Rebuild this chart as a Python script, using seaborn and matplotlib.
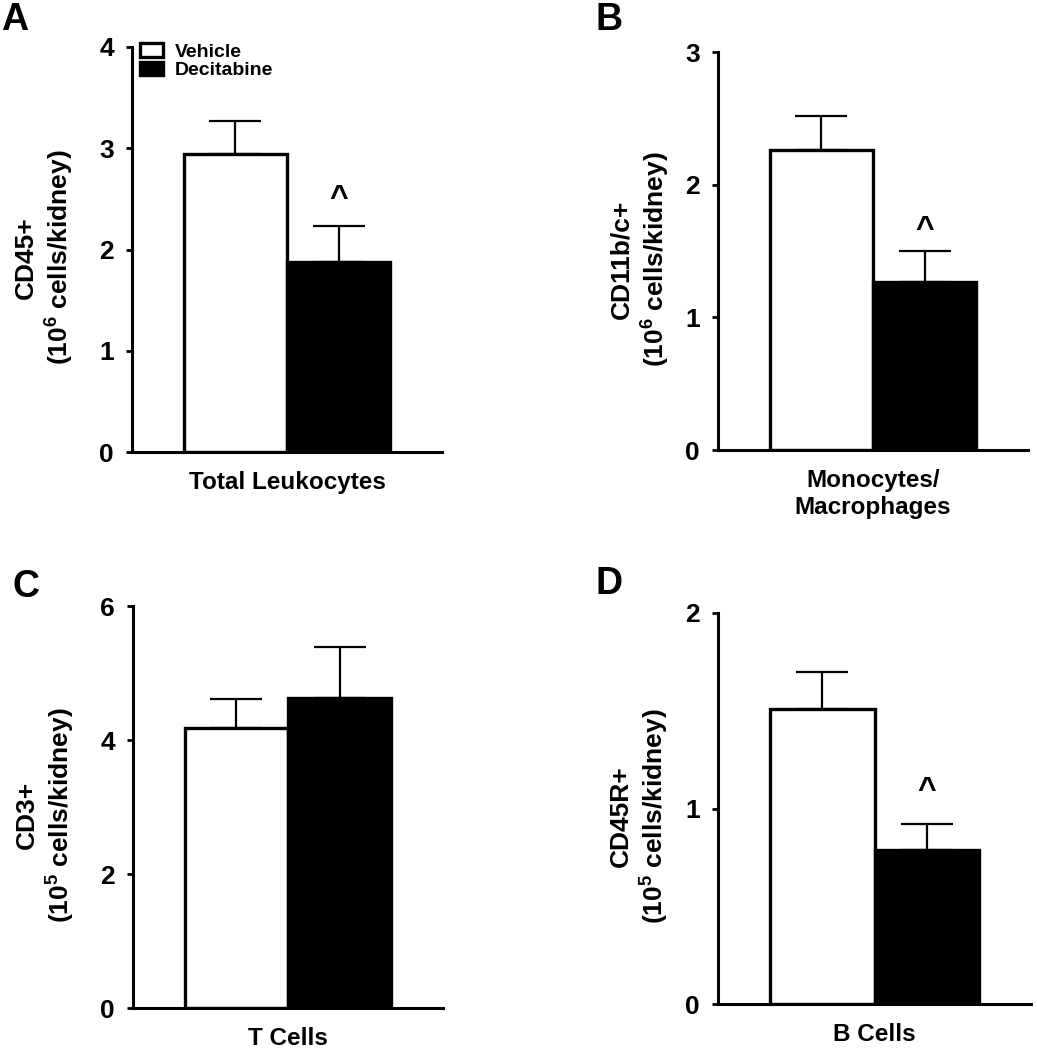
import numpy as np
import pandas as pd
import matplotlib
matplotlib.use("Agg")
import matplotlib.pyplot as plt
import seaborn as sns

# values
panels = ["A", "B", "C", "D"]
cell_types = ["Total Leukocytes", "Monocytes/\nMacrophages", "T Cells", "B Cells"]
y_labels = [
    "CD45+\n(10$^6$ cells/kidney)",
    "CD11b/c+\n(10$^6$ cells/kidney)",
    "CD3+\n(10$^5$ cells/kidney)",
    "CD45R+\n(10$^5$ cells/kidney)",
]
groups = ["Vehicle", "Decitabine"]
vehicle_mean = [2.94, 2.26, 4.18, 1.51]
vehicle_sem = [0.33, 0.26, 0.43, 0.19]
decitabine_mean = [1.88, 1.27, 4.63, 0.79]
decitabine_sem = [0.35, 0.23, 0.76, 0.13]
y_max = [4, 3, 6, 2]
y_step = [1, 1, 2, 1]
caret_y = [2.50, 1.66, None, 1.09]  # "^" marks above Decitabine bars

sns.set_style("ticks")
plt.rcParams["font.family"] = ["Liberation Sans", "DejaVu Sans"]
plt.rcParams["font.weight"] = "bold"
plt.rcParams["mathtext.default"] = "regular"
for key in ["text.color", "axes.labelcolor", "xtick.color", "ytick.color", "axes.edgecolor"]:
    plt.rcParams[key] = "black"

W, H = 1037, 1050
fig = plt.figure(figsize=(W / 100, H / 100), dpi=100)

# axes boxes in pixels: left, top, right, bottom
boxes = [(132, 47, 442, 452), (718, 52, 1028, 450),
         (133, 606, 443, 1008), (718, 613, 1031, 1004)]
label_x = [-0.18, -0.15, -0.18, -0.15]
letter_pos = [(1, 2), (595, 2), (12, 569), (596, 566)]

for i in range(4):
    x0, y0, x1, y1 = boxes[i]
    ax = fig.add_axes([x0 / W, 1 - y1 / H, (x1 - x0) / W, (y1 - y0) / H])

    df = pd.DataFrame({
        "cell": [cell_types[i]] * 2,
        "group": groups,
        "value": [vehicle_mean[i], decitabine_mean[i]],
        "sem": [vehicle_sem[i], decitabine_sem[i]],
    })
    sns.barplot(data=df, x="cell", y="value", hue="group", hue_order=groups,
                palette={"Vehicle": "white", "Decitabine": "black"},
                edgecolor="black", linewidth=2.4, errorbar=None,
                legend=(i == 0), ax=ax)

    # upper-only SEM bars
    for cont, sem in zip(ax.containers, df["sem"]):
        bar = cont[0]
        xc = bar.get_x() + bar.get_width() / 2
        ax.errorbar(xc, bar.get_height(), yerr=[[0], [sem]], fmt="none",
                    ecolor="black", elinewidth=1.6, capsize=18.5,
                    capthick=1.6, zorder=1)

    if caret_y[i] is not None:
        bar = ax.containers[1][0]
        ax.text(bar.get_x() + bar.get_width() / 2, caret_y[i], "^",
                ha="center", va="center", fontsize=23, fontweight="bold")

    ax.set_xlim(-0.6, 0.6)
    ax.set_ylim(0, y_max[i])
    ax.set_yticks(np.arange(0, y_max[i] + 0.01, y_step[i]))
    ax.tick_params(axis="y", length=4, width=2, pad=9, labelsize=19)
    ax.tick_params(axis="x", length=0, pad=14, labelsize=17.5)
    for lab in ax.get_yticklabels() + ax.get_xticklabels():
        lab.set_fontweight("bold")
    ax.set_xlabel("")
    ax.set_ylabel(y_labels[i], fontsize=19, fontweight="bold", linespacing=1.25)
    ax.yaxis.set_label_coords(label_x[i], 0.48)
    sns.despine(ax=ax)
    for s in ["left", "bottom"]:
        ax.spines[s].set_linewidth(2.2)

    if i == 0:
        ax.legend(loc="upper left", bbox_to_anchor=(0.025, 1.01), frameon=False,
                  handlelength=1.2, handleheight=0.7,
                  labelspacing=0.05, handletextpad=0.6, borderpad=0,
                  borderaxespad=0, prop={"weight": "bold", "size": 14})

    lx, ly = letter_pos[i]
    fig.text(lx / W, 1 - ly / H, panels[i], fontsize=27, fontweight="bold",
             ha="left", va="top")

fig.savefig("out.png", dpi=100)
